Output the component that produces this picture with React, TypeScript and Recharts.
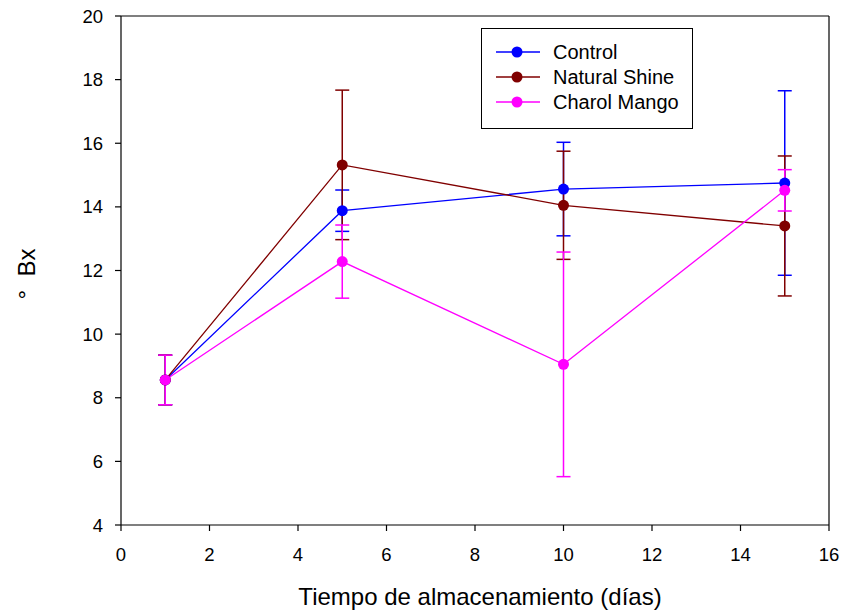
import React from 'react';
import { ComposedChart, Line, XAxis, YAxis, ErrorBar, ReferenceLine, Legend, Label } from 'recharts';

// storage days
const days = [1, 5, 10, 15];

// °Bx means and error bars per treatment
const control = [8.56, 13.88, 14.56, 14.75];
const controlErr = [0.78, 0.65, 1.47, 2.9];
const naturalShine = [8.56, 15.32, 14.05, 13.4];
const naturalShineErr = [0.78, 2.35, 1.7, 2.2];
const charolMango = [8.56, 12.28, 9.05, 14.52];
const charolMangoErr = [0.78, 1.15, 3.53, 0.65];

const xTicks = [0, 2, 4, 6, 8, 10, 12, 14, 16];
const yTicks = [4, 6, 8, 10, 12, 14, 16, 18, 20];

const series = [
    { key: 'control', name: 'Control', color: '#0000FF' },
    { key: 'natural', name: 'Natural Shine', color: '#800000' },
    { key: 'charol', name: 'Charol Mango', color: '#FF00FF' },
];

const FONT = 'Arial, "Liberation Sans", sans-serif';

const data = days.map((d, i) => ({
    day: d,
    control: control[i],
    controlErr: controlErr[i],
    natural: naturalShine[i],
    naturalErr: naturalShineErr[i],
    charol: charolMango[i],
    charolErr: charolMangoErr[i],
}));

const LegendBox = () => (
    <svg width={212} height={101} style={{ display: 'block' }}>
        <rect x={0.5} y={0.5} width={211} height={100} fill="#fff" stroke="#000" strokeWidth={1} />
        {series.map((s, i) => {
            const cy = 24 + i * 25;
            return (
                <g key={s.key}>
                    <line x1={15} x2={59} y1={cy} y2={cy} stroke={s.color} strokeWidth={1.3} />
                    <circle cx={36} cy={cy} r={5.5} fill={s.color} />
                    <text x={72} y={cy} dominantBaseline="central" fontSize={20} fontFamily={FONT} fill="#000">
                        {s.name}
                    </text>
                </g>
            );
        })}
    </svg>
);

const App: React.FC = () => {
    return (
        <div style={{ position: 'absolute', left: 0, top: 0, width: 843, height: 612, background: '#fff', fontFamily: FONT }}>
            <ComposedChart width={843} height={612} data={data} margin={{ top: 16, right: 14, left: 21, bottom: 7 }}>
                <XAxis
                    dataKey="day"
                    type="number"
                    domain={[0, 16]}
                    ticks={xTicks}
                    interval={0}
                    height={80}
                    tickSize={6}
                    tickMargin={17}
                    axisLine={{ stroke: '#000', strokeWidth: 1.2 }}
                    tickLine={{ stroke: '#000', strokeWidth: 1.2 }}
                    tick={{ fontSize: 18.5, fill: '#000', fontFamily: FONT }}
                >
                    <Label
                        value="Tiempo de almacenamiento (días)"
                        position="insideBottom"
                        offset={0}
                        dx={5}
                        style={{ fontSize: 24, fill: '#000', fontFamily: FONT }}
                    />
                </XAxis>
                <YAxis
                    type="number"
                    domain={[4, 20]}
                    ticks={yTicks}
                    interval={0}
                    width={100}
                    tickSize={6}
                    tickMargin={12}
                    axisLine={{ stroke: '#000', strokeWidth: 1.2 }}
                    tickLine={{ stroke: '#000', strokeWidth: 1.2 }}
                    tick={{ fontSize: 18.5, fill: '#000', fontFamily: FONT }}
                >
                    <Label
                        content={() => (
                            <text
                                x={26}
                                y={274}
                                transform="rotate(-90 26 274)"
                                textAnchor="middle"
                                dominantBaseline="central"
                                fontSize={24}
                                fontFamily={FONT}
                                fill="#000"
                            >
                                {'°\u00A0\u00A0Bx'}
                            </text>
                        )}
                    />
                </YAxis>
                <ReferenceLine y={20} stroke="#000" strokeWidth={1.2} />
                <ReferenceLine x={16} stroke="#000" strokeWidth={1.2} />
                <Legend
                    layout="vertical"
                    align="center"
                    verticalAlign="middle"
                    content={() => <LegendBox />}
                    wrapperStyle={{ left: 481, top: 28, width: 212, height: 101 }}
                />
                {series.map(s => (
                    <Line
                        key={s.key}
                        type="linear"
                        dataKey={s.key}
                        name={s.name}
                        stroke={s.color}
                        strokeWidth={1.3}
                        dot={{ r: 5.5, fill: s.color, stroke: 'none' }}
                        activeDot={false}
                        isAnimationActive={false}
                    >
                        <ErrorBar dataKey={`${s.key}Err`} direction="y" width={7} stroke={s.color} strokeWidth={1.5} isAnimationActive={false} />
                    </Line>
                ))}
            </ComposedChart>
        </div>
    );
};

export default App;
